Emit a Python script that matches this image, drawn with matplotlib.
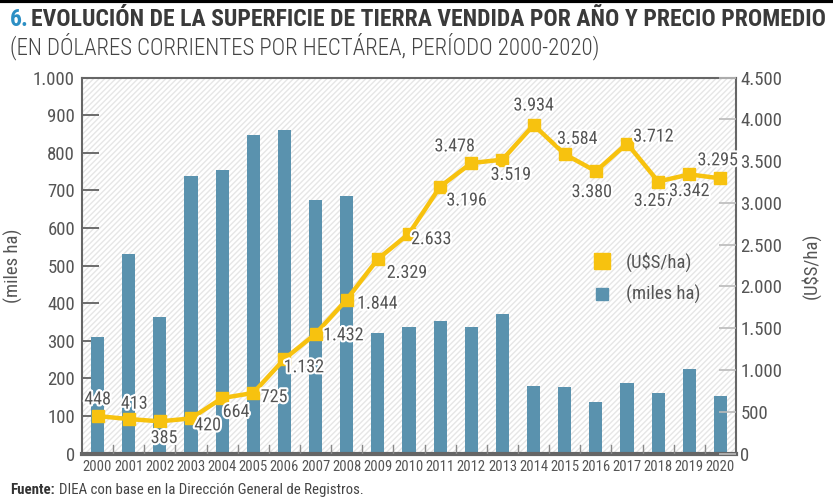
import matplotlib.pyplot as plt
import matplotlib.patheffects as pe
from matplotlib.lines import Line2D
from matplotlib import font_manager

# datos
years = list(range(2000, 2021))
sup_miles_ha = [309, 532, 364, 738, 755, 847, 861, 675, 684, 322, 336,
                353, 336, 370, 180, 177, 138, 187, 161, 225, 154]
precio_usd_ha = [448, 413, 385, 420, 664, 725, 1132, 1432, 1844, 2329, 2633,
                 3196, 3478, 3519, 3934, 3584, 3380, 3712, 3257, 3342, 3295]
left_ticks = [0, 100, 200, 300, 400, 500, 600, 700, 800, 900, 1000]
right_ticks = [0, 500, 1000, 1500, 2000, 2500, 3000, 3500, 4000, 4500]

# posicion de cada etiqueta respecto al punto (pts)
label_offsets = [(0, 12), (4, 11), (3, -12), (12, -5), (10, -10), (15, -3),
                 (14, -6), (20, -1), (22, -3), (21, -10), (16, -4),
                 (19, -10), (-12, 12), (6, -11), (0, 14), (9, 11), (-3, -15),
                 (19, 5), (-3, -14), (0, -12), (-2, 13)]

# buscar una fuente condensada si hay alguna
fonts = font_manager.fontManager.ttflist
names = {f.name for f in fonts}
narrow = None
for cand in ['Liberation Sans Narrow', 'Roboto Condensed', 'Open Sans Condensed',
             'DejaVu Sans Condensed', 'Noto Sans Condensed']:
    if cand in names:
        narrow = cand
        break
stretch = 'normal'
if narrow is None:
    for f in fonts:
        if f.stretch in ('condensed', 'semi-condensed', 'extra-condensed', 75, 87.5) \
                and 'Mono' not in f.name and 'Serif' not in f.name:
            narrow = f.name
            stretch = 'condensed'
            break
if narrow is None:
    narrow = 'DejaVu Sans'
plt.rcParams['font.family'] = [narrow, 'DejaVu Sans']
plt.rcParams['font.stretch'] = stretch
is_narrow = narrow != 'DejaVu Sans' or stretch != 'normal'
k = 1.0 if is_narrow else 0.82

def fmt(v):
    return f"{v:,}".replace(",", ".")

grey = '#555555'
bar_color = '#5a92ae'
line_color = '#f7c20f'

fig = plt.figure(figsize=(8.33, 5.03), dpi=100)
ax = fig.add_axes([0.0984, 0.0984, 0.7852, 0.7471])
ax2 = ax.twinx()

ax.patch.set_facecolor('white')
ax.patch.set_hatch('//////')
ax.patch.set_edgecolor('#e6e6e6')
ax.patch.set_linewidth(0)

ax.bar(years, sup_miles_ha, width=0.42, color=bar_color, zorder=2)
ax.set_ylim(0, 1000)
ax.set_xlim(1999.5, 2020.5)
ax.set_yticks(left_ticks)
ax.set_yticklabels([fmt(t) for t in left_ticks], fontsize=13.5 * k, color=grey)
ax.tick_params(axis='y', direction='in', length=12, width=1.2, color=grey, pad=5)
ax.set_xticks(years)
ax.set_xticklabels([str(y) for y in years], fontsize=10.5 if is_narrow else 8.2, color=grey)
ax.tick_params(axis='x', length=0, pad=5)
for b in [y + 0.5 for y in years[:-1]]:
    ax.plot([b, b], [0, 22], color='#888888', lw=1, zorder=3)
ax.set_ylabel('(miles ha)', fontsize=13.5 * k, color=grey)
ax.yaxis.set_label_coords(-0.09, 0.5)

for s in ['top', 'left', 'right']:
    ax.spines[s].set_color('#666666')
    ax.spines[s].set_linewidth(1.5)
ax.spines['bottom'].set_color('#666666')
ax.spines['bottom'].set_linewidth(3)

ax2.plot(years, precio_usd_ha, color=line_color, lw=3.2, marker='s',
         markersize=9, zorder=4)
ax2.set_ylim(0, 4500)
ax2.set_yticks(right_ticks)
ax2.set_yticklabels([fmt(t) for t in right_ticks], fontsize=13.5 * k, color=grey)
ax2.tick_params(axis='y', direction='in', length=12, width=1.2, color='#bbbbbb', pad=3)
ax2.set_ylabel('(U$S/ha)', fontsize=13.5 * k, color=grey)
ax2.yaxis.set_label_coords(1.1, 0.5)
for s in ax2.spines.values():
    s.set_visible(False)

halo = [pe.withStroke(linewidth=3, foreground='white')]
for x, v, off in zip(years, precio_usd_ha, label_offsets):
    ax2.annotate(fmt(v), (x, v), xytext=off, textcoords='offset points',
                 ha='center', va='center', fontsize=13 * k, color=grey,
                 path_effects=halo, zorder=5)

handles = [Line2D([], [], marker='s', color=line_color, lw=0, markersize=11),
           Line2D([], [], marker='s', color=bar_color, lw=0, markersize=9)]
ax2.legend(handles, ['(U$S/ha)', '(miles ha)'], loc='upper left',
           bbox_to_anchor=(0.74, 0.58), frameon=False, fontsize=13.5 * k,
           labelcolor=grey, handletextpad=0.3, labelspacing=0.7)

fig.add_artist(Line2D([0, 1], [0.998, 0.998], color='black', lw=3))
t6 = fig.text(0.012, 0.961, '6.', fontsize=18, fontweight='bold', color='#2c8fc4', va='center')
title = fig.text(0.034, 0.961, 'EVOLUCIÓN DE LA SUPERFICIE DE TIERRA VENDIDA POR AÑO Y PRECIO PROMEDIO',
                 fontsize=18, fontweight='bold', color='#3a3a3a', va='center')
sub = fig.text(0.012, 0.908, '(EN DÓLARES CORRIENTES POR HECTÁREA, PERÍODO 2000-2020)',
               fontsize=17, fontweight='light', color='#444444', va='center')
fte = fig.text(0.012, 0.025, 'Fuente:', fontsize=11, fontweight='bold', color='#333333', va='center')
src = fig.text(0.07, 0.025, 'DIEA con base en la Dirección General de Registros.',
               fontsize=11, color='#444444', va='center')

# ajustar titulo y textos al ancho del reference
r = fig.canvas.get_renderer()
w6 = t6.get_window_extent(r)
title.set_x((w6.x1 + 2) / fig.bbox.width)
while title.get_window_extent(r).x1 > 830:
    fs = title.get_fontsize() - 0.25
    title.set_fontsize(fs)
    t6.set_fontsize(fs)
    w6 = t6.get_window_extent(r)
    title.set_x((w6.x1 + 2) / fig.bbox.width)
while sub.get_window_extent(r).x1 > 606:
    sub.set_fontsize(sub.get_fontsize() - 0.25)
wf = fte.get_window_extent(r)
src.set_x((wf.x1 + 4) / fig.bbox.width)
while src.get_window_extent(r).x1 > 364:
    src.set_fontsize(src.get_fontsize() - 0.25)
    fte.set_fontsize(src.get_fontsize())
    wf = fte.get_window_extent(r)
    src.set_x((wf.x1 + 4) / fig.bbox.width)

fig.savefig('out.png', dpi=100)
